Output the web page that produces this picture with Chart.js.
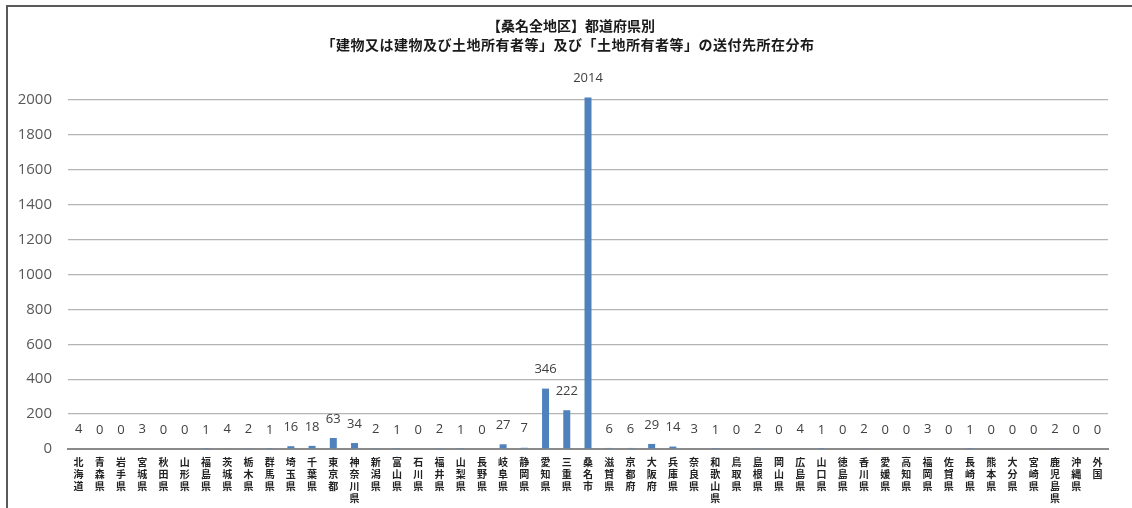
<!DOCTYPE html>
<html lang="ja">
<head>
<meta charset="utf-8">
<script src="https://cdn.jsdelivr.net/npm/chart.js@4/dist/chart.umd.min.js"></script>
<style>
  html, body { margin: 0; padding: 0; background: #ffffff; }
  #wrap { position: relative; width: 1132px; height: 508px; }
</style>
</head>
<body>
<div id="wrap"><canvas id="chart" width="1132" height="508"></canvas></div>
<script>
// 都道府県別の送付先件数
const prefectures = [
  '北海道','青森県','岩手県','宮城県','秋田県','山形県','福島県','茨城県','栃木県','群馬県',
  '埼玉県','千葉県','東京都','神奈川県','新潟県','富山県','石川県','福井県','山梨県','長野県',
  '岐阜県','静岡県','愛知県','三重県','桑名市','滋賀県','京都府','大阪府','兵庫県','奈良県',
  '和歌山県','鳥取県','島根県','岡山県','広島県','山口県','徳島県','香川県','愛媛県','高知県',
  '福岡県','佐賀県','長崎県','熊本県','大分県','宮崎県','鹿児島県','沖縄県','外国'
];
const counts = [
  4, 0, 0, 3, 0, 0, 1, 4, 2, 1,
  16, 18, 63, 34, 2, 1, 0, 2, 1, 0,
  27, 7, 346, 222, 2014, 6, 6, 29, 14, 3,
  1, 0, 2, 0, 4, 1, 0, 2, 0, 0,
  3, 0, 1, 0, 0, 0, 2, 0, 0
];
const yTicks = [0, 200, 400, 600, 800, 1000, 1200, 1400, 1600, 1800, 2000];
const titleLines = [
  '【桑名全地区】都道府県別',
  '「建物又は建物及び土地所有者等」及び「土地所有者等」の送付先所在分布'
];

const JP = '"Noto Sans CJK JP", "Noto Sans", sans-serif';
const NUM = '"Open Sans", "Noto Sans", sans-serif';

// Frame, title and value labels drawn straight onto the canvas
const decorations = {
  id: 'decorations',
  beforeDraw(chart) {
    const ctx = chart.ctx;
    ctx.save();
    ctx.fillStyle = '#ffffff';
    ctx.fillRect(0, 0, chart.width, chart.height);
    ctx.strokeStyle = '#5a5a5a';
    ctx.lineWidth = 2;
    ctx.beginPath();
    ctx.moveTo(7, chart.height);
    ctx.lineTo(7, 6);
    ctx.lineTo(chart.width, 6);
    ctx.stroke();
    ctx.restore();
  },
  afterDraw(chart) {
    const ctx = chart.ctx;
    ctx.save();
    ctx.fillStyle = '#1a1a1a';
    ctx.textAlign = 'center';
    ctx.textBaseline = 'middle';
    ctx.font = 'bold 14px ' + JP;
    ctx.fillText(titleLines[0], 571, 26);
    ctx.letterSpacing = '0.5px';
    ctx.fillText(titleLines[1], 568, 45);
    ctx.letterSpacing = '0px';

    ctx.fillStyle = '#404040';
    ctx.font = '13px ' + NUM;
    const meta = chart.getDatasetMeta(0);
    meta.data.forEach((bar, i) => {
      ctx.fillText(String(counts[i]), bar.x, bar.y - 19);
    });
    ctx.restore();
  }
};

new Chart(document.getElementById('chart'), {
  type: 'bar',
  data: {
    labels: prefectures,
    datasets: [{
      data: counts,
      backgroundColor: '#4F81BD',
      borderWidth: 0,
      barPercentage: 0.66,
      categoryPercentage: 0.5
    }]
  },
  options: {
    responsive: false,
    animation: false,
    events: [],
    layout: { padding: { left: 18, right: 24, top: 65, bottom: 0 } },
    plugins: {
      legend: { display: false },
      title: { display: false },
      tooltip: { enabled: false }
    },
    scales: {
      x: {
        afterFit(scale) { scale.height = 59; },
        grid: { display: false, drawTicks: false },
        border: { display: true, color: '#8a8a8a', width: 2 },
        ticks: {
          autoSkip: false,
          maxRotation: 0,
          minRotation: 0,
          padding: 7,
          color: '#222222',
          font: { family: JP, size: 10, weight: 'bold', lineHeight: 1.2 },
          callback: (v, i) => prefectures[i].split('')
        }
      },
      y: {
        min: 0,
        max: 2200,
        afterFit(scale) { scale.width = 50; },
        afterBuildTicks(scale) { scale.ticks = yTicks.map(v => ({ value: v })); },
        grid: { color: '#b4b4b4', lineWidth: 1.2, drawTicks: false },
        border: { display: false },
        ticks: {
          padding: 16,
          color: '#595959',
          font: { family: NUM, size: 15 },
          callback: (v) => String(v)
        }
      }
    }
  },
  plugins: [decorations]
});
</script>
</body>
</html>
